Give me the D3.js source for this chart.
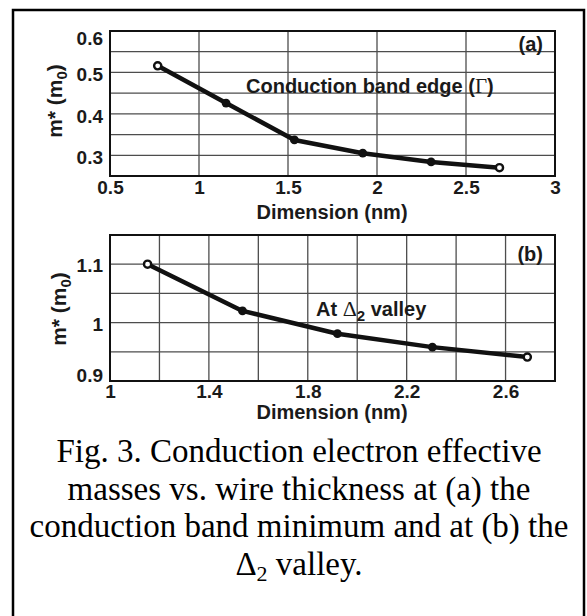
<!DOCTYPE html>
<html><head><meta charset="utf-8">
<script src="https://cdn.jsdelivr.net/npm/d3@7"></script>
<style>body{margin:0;background:#fff}svg{display:block}</style>
</head><body>
<svg id="c" width="587" height="616"></svg>
<script>
// ---- data ----
const dimA = [0.768, 1.152, 1.536, 1.92, 2.304, 2.688];
const massA = [0.516, 0.426, 0.337, 0.305, 0.284, 0.270];
const dimB = [1.152, 1.536, 1.92, 2.304, 2.688];
const massB = [1.100, 1.020, 0.981, 0.958, 0.941];
const xTicksA = [0.5, 1, 1.5, 2, 2.5, 3];
const xGridA = [1, 1.5, 2, 2.5];
const yTicksA = [0.3, 0.4, 0.5, 0.6];
const yGridA = [0.3, 0.35, 0.4, 0.45, 0.5, 0.55];
const xTicksB = [1, 1.4, 1.8, 2.2, 2.6];
const xGridB = [1.2, 1.4, 1.6, 1.8, 2.0, 2.2, 2.4, 2.6];
const yTicksB = [0.9, 1, 1.1];
const yGridB = [0.95, 1.0, 1.05, 1.1];
const captionLines = ["Fig. 3. Conduction electron effective",
  "masses vs. wire thickness at (a) the",
  "conduction band minimum and at (b) the"];

const svg = d3.select("#c");
const sans = "'Liberation Sans', Arial, sans-serif";
const serif = "'Liberation Serif', 'Times New Roman', serif";
const ink = "#1a1a1a";

// outer frame
svg.append("rect").attr("x", 13).attr("y", 10).attr("width", 571).attr("height", 620)
  .attr("fill", "none").attr("stroke", "#000").attr("stroke-width", 2.5);

function panel(cfg) {
  const g = svg.append("g");
  const x = d3.scaleLinear().domain(cfg.xd).range([110, 555]);
  const y = d3.scaleLinear().domain(cfg.yd).range([cfg.bottom, cfg.top]);
  // grid
  g.selectAll(".vg").data(cfg.xGrid).join("line")
    .attr("x1", d => x(d)).attr("x2", d => x(d)).attr("y1", cfg.top).attr("y2", cfg.bottom)
    .attr("stroke", "#4d4d4d").attr("stroke-width", 1.3);
  g.selectAll(".hg").data(cfg.yGrid).join("line")
    .attr("y1", d => y(d)).attr("y2", d => y(d)).attr("x1", 110).attr("x2", 555)
    .attr("stroke", "#4d4d4d").attr("stroke-width", 1.3);
  g.append("rect").attr("x", 110).attr("y", cfg.top).attr("width", 445).attr("height", cfg.bottom - cfg.top)
    .attr("fill", "none").attr("stroke", "#111").attr("stroke-width", 2);
  // axes tick labels
  const xa = d3.axisBottom(x).tickValues(cfg.xTicks).tickSize(0).tickFormat(d3.format("~g"));
  const gx = g.append("g").attr("transform", `translate(0,${cfg.bottom})`).call(xa);
  gx.select(".domain").remove();
  gx.selectAll("text").attr("font-family", sans).attr("font-weight", "bold").attr("font-size", 19)
    .attr("fill", ink).attr("dy", null).attr("y", cfg.xLabY);
  const ya = d3.axisLeft(y).tickValues(cfg.yTicks).tickSize(0).tickFormat(d3.format("~g"));
  const gy = g.append("g").attr("transform", "translate(110,0)").call(ya);
  gy.select(".domain").remove();
  gy.selectAll("text").attr("font-family", sans).attr("font-weight", "bold").attr("font-size", 19)
    .attr("fill", ink).attr("x", -7).attr("dy", d => cfg.yDy(d));
  // axis titles
  g.append("text").attr("x", 332).attr("y", cfg.xTitleY).attr("text-anchor", "middle")
    .attr("font-family", sans).attr("font-weight", "bold").attr("font-size", 20).attr("fill", ink)
    .text("Dimension (nm)");
  const yl = g.append("text").attr("transform", `translate(${cfg.yTitleX},${cfg.yTitleC}) rotate(-90)`)
    .attr("text-anchor", "middle").attr("font-family", sans).attr("font-weight", "bold")
    .attr("font-size", 21).attr("fill", ink);
  yl.append("tspan").text("m* (m");
  yl.append("tspan").attr("font-size", 15).attr("dy", 5).text("0");
  yl.append("tspan").attr("dy", -5).text(")");
  // line
  const pts = cfg.xs.map((d, i) => [d, cfg.ys[i]]);
  g.append("path").datum(pts)
    .attr("d", d3.line().x(d => x(d[0])).y(d => y(d[1])))
    .attr("fill", "none").attr("stroke", "#111").attr("stroke-width", 4.5).attr("stroke-linejoin", "round");
  const isEnd = i => i === 0 || i === pts.length - 1;
  g.selectAll(".pt").data(pts).join("circle")
    .attr("cx", d => x(d[0])).attr("cy", d => y(d[1])).attr("r", (d, i) => isEnd(i) ? 3.6 : 4.4)
    .attr("fill", (d, i) => isEnd(i) ? "#fff" : "#111")
    .attr("stroke", "#111").attr("stroke-width", (d, i) => isEnd(i) ? 2.4 : 0);
  return g;
}

const gA = panel({xd: [0.5, 3], yd: [0.25, 0.6], top: 31, bottom: 176,
  xGrid: xGridA, yGrid: yGridA, xTicks: xTicksA, yTicks: yTicksA,
  xLabY: 18, yDy: d => d === 0.6 ? "0.7em" : "0.45em", xTitleY: 219, yTitleX: 62, yTitleC: 101,
  xs: dimA, ys: massA});
gA.append("text").attr("x", 543).attr("y", 51).attr("text-anchor", "end")
  .attr("font-family", sans).attr("font-weight", "bold").attr("font-size", 20).attr("fill", ink).text("(a)");
const ta = gA.append("text").attr("x", 246).attr("y", 93)
  .attr("font-family", sans).attr("font-weight", "bold").attr("font-size", 20).attr("fill", ink);
ta.append("tspan").text("Conduction band edge (");
ta.append("tspan").attr("font-family", serif).attr("font-weight", "normal").attr("font-size", 21).text("Γ");
ta.append("tspan").text(")");

const gB = panel({xd: [1, 2.8], yd: [0.9, 1.15], top: 235, bottom: 381,
  xGrid: xGridB, yGrid: yGridB, xTicks: xTicksB, yTicks: yTicksB,
  xLabY: 17, yDy: d => d === 0.9 ? "0" : "0.4em", xTitleY: 419, yTitleX: 66, yTitleC: 309,
  xs: dimB, ys: massB});
gB.append("text").attr("x", 543).attr("y", 261).attr("text-anchor", "end")
  .attr("font-family", sans).attr("font-weight", "bold").attr("font-size", 20).attr("fill", ink).text("(b)");
const tb = gB.append("text").attr("x", 316).attr("y", 316)
  .attr("font-family", sans).attr("font-weight", "bold").attr("font-size", 20).attr("fill", ink);
tb.append("tspan").text("At ");
tb.append("tspan").attr("font-family", serif).attr("font-weight", "normal").attr("font-size", 22).text("Δ");
tb.append("tspan").attr("font-size", 15).attr("dy", 5).text("2");
tb.append("tspan").attr("dy", -5).text(" valley");

// caption
const cap = svg.append("g").attr("font-family", serif).attr("font-size", 33).attr("fill", "#000")
  .attr("text-anchor", "middle");
captionLines.forEach((t, i) => cap.append("text").attr("x", 299).attr("y", 462 + i * 37.7).text(t));
const l4 = cap.append("text").attr("x", 299).attr("y", 462 + 3 * 37.7);
l4.append("tspan").text("Δ");
l4.append("tspan").attr("font-size", 22).attr("dy", 6).text("2");
l4.append("tspan").attr("dy", -6).text(" valley.");
</script>
</body></html>
